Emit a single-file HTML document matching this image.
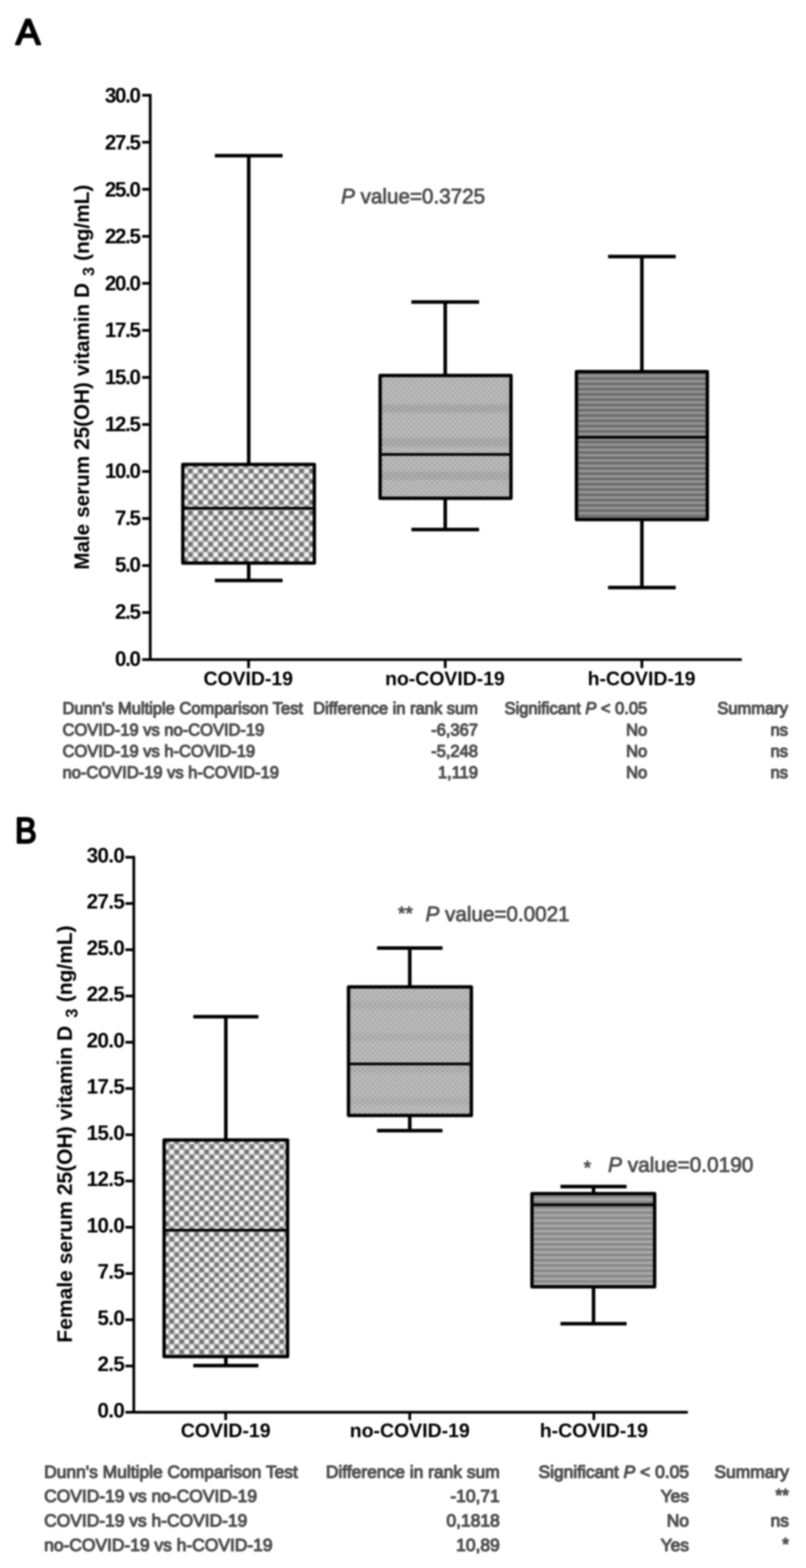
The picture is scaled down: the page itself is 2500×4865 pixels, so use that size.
<!DOCTYPE html>
<html lang="en"><head><meta charset="utf-8"><title>Serum 25(OH) vitamin D3 by COVID-19 group</title>
<style>html,body{margin:0;padding:0;background:#fff}body{width:2500px;height:4865px;overflow:hidden}svg{display:block;font-family:"Liberation Sans", sans-serif}</style>
</head><body>
<svg width="2500" height="4865" viewBox="0 0 2500 4865">
<defs>
<filter id="bl" x="0" y="0" width="2500" height="4865" filterUnits="userSpaceOnUse" color-interpolation-filters="sRGB"><feGaussianBlur stdDeviation="2.4"/></filter>
<pattern id="chkA" width="31.3" height="32.4" patternUnits="userSpaceOnUse" patternTransform="translate(582.97 1453.40)"><rect width="31.3" height="32.4" fill="#ffffff"/><rect x="0" y="0" width="15.65" height="16.2" fill="#686868"/><rect x="15.65" y="16.2" width="15.65" height="16.2" fill="#686868"/></pattern>
<pattern id="chkB" width="31.0" height="31.8" patternUnits="userSpaceOnUse" patternTransform="translate(524.85 3550.55)"><rect width="31.0" height="31.8" fill="#ffffff"/><rect x="0" y="0" width="15.5" height="15.9" fill="#686868"/><rect x="15.5" y="15.9" width="15.5" height="15.9" fill="#686868"/></pattern>
<pattern id="strA" width="16.4" height="16.4" patternUnits="userSpaceOnUse" patternTransform="translate(0 1170.40)"><rect width="16.4" height="16.4" fill="#a2a2a2"/><rect width="16.4" height="8.2" fill="#5e5e5e"/></pattern>
<pattern id="strB" width="16.4" height="16.4" patternUnits="userSpaceOnUse" patternTransform="translate(0 3758.40)"><rect width="16.4" height="16.4" fill="#b4b4b4"/><rect width="16.4" height="8.2" fill="#7c7c7c"/></pattern>
<pattern id="dotA" width="16" height="16" patternUnits="userSpaceOnUse"><rect width="16" height="16" fill="#c0c0c0"/><rect x="1" y="1.5" width="6" height="5" fill="#808080"/><rect x="9" y="9.5" width="6" height="5" fill="#808080"/><rect x="10.5" y="3" width="3" height="2" fill="#fff"/><rect x="2.5" y="11" width="3" height="2" fill="#fff"/></pattern>
<pattern id="dotB" width="16" height="16" patternUnits="userSpaceOnUse"><rect width="16" height="16" fill="#c1c1c1"/><rect x="1" y="1.5" width="6" height="5" fill="#828282"/><rect x="9" y="9.5" width="6" height="5" fill="#828282"/><rect x="10.5" y="3" width="3" height="2" fill="#fff"/><rect x="2.5" y="11" width="3" height="2" fill="#fff"/></pattern>
<filter id="pb" x="0" y="0" width="2500" height="4865" filterUnits="userSpaceOnUse" color-interpolation-filters="sRGB"><feGaussianBlur stdDeviation="2.4"/></filter>
</defs>
<rect width="2500" height="4865" fill="#fff"/>
<g filter="url(#bl)">
<g filter="url(#pb)">
<rect x="567" y="1441" width="408" height="306" fill="url(#chkA)"/>
<rect x="1179" y="1165" width="406" height="381" fill="url(#dotA)"/>
<rect x="1179" y="1255" width="406" height="26" fill="#000" fill-opacity="0.07"/>
<rect x="1179" y="1359" width="406" height="26" fill="#000" fill-opacity="0.07"/>
<rect x="1179" y="1463" width="406" height="26" fill="#000" fill-opacity="0.07"/>
<rect x="1788" y="1153" width="406" height="459" fill="url(#strA)"/>
</g>
<g stroke="#000" fill="none" stroke-linecap="butt" stroke-linejoin="round">
<path stroke-width="8.5" d="M466 291.2 V2046.5 H2301"/>
<path stroke-width="8.5" d="M441 2046.5H466M441 1900.6H466M441 1754.7H466M441 1608.7H466M441 1462.8H466M441 1316.9H466M441 1171.0H466M441 1025.0H466M441 879.1H466M441 733.2H466M441 587.2H466M441 441.3H466M441 295.4H466M771 2046.5V2073M1381 2046.5V2073M1991 2046.5V2073"/>
<rect stroke-width="10.5" x="567" y="1441" width="408" height="306"/>
<path stroke-width="8.5" d="M567 1577H975"/>
<path stroke-width="11" d="M771.5 1441V483M666.5 483H876.5M771.5 1747V1801M666.5 1801H876.5"/>
<rect stroke-width="10.5" x="1179" y="1165" width="406" height="381"/>
<path stroke-width="8.5" d="M1179 1410H1585"/>
<path stroke-width="11" d="M1381 1165V937M1276.0 937H1486.0M1381 1546V1643M1276.0 1643H1486.0"/>
<rect stroke-width="10.5" x="1788" y="1153" width="406" height="459"/>
<path stroke-width="8.5" d="M1788 1357H2194"/>
<path stroke-width="11" d="M1991 1153V796M1886.0 796H2096.0M1991 1612V1823M1886.0 1823H2096.0"/>
</g>
<g font-weight="700" font-size="64" text-anchor="end" letter-spacing="-4.3">
<text x="432.7" y="2065.5">0.0</text>
<text x="432.7" y="1919.9">2.5</text>
<text x="432.7" y="1774.3">5.0</text>
<text x="432.7" y="1628.7">7.5</text>
<text x="432.7" y="1483.1">10.0</text>
<text x="432.7" y="1337.5">12.5</text>
<text x="432.7" y="1192.0">15.0</text>
<text x="432.7" y="1046.4">17.5</text>
<text x="432.7" y="900.8">20.0</text>
<text x="432.7" y="755.2">22.5</text>
<text x="432.7" y="609.6">25.0</text>
<text x="432.7" y="464.0">27.5</text>
<text x="432.7" y="318.4">30.0</text>
</g>
<g font-weight="700" font-size="60.2" text-anchor="middle">
<text x="770" y="2126">COVID-19</text>
<text x="1380" y="2126">no-COVID-19</text>
<text x="1990" y="2126">h-COVID-19</text>
</g>
<g font-weight="700" font-size="64">
<text transform="translate(276 878) rotate(-90)" text-anchor="end" letter-spacing="0" word-spacing="1">Male serum 25(OH) vitamin D</text>
<text transform="translate(292 842.7) rotate(-90)" text-anchor="middle" font-size="50">3</text>
<text transform="translate(276 809.5) rotate(-90)" text-anchor="start" font-size="64.5">(ng/mL)</text>
</g>
<text transform="translate(49 137) scale(1.02 1)" font-weight="400" stroke="#000" stroke-width="6" stroke-linejoin="round" font-size="112">A</text>
<g fill="#505050" stroke="#505050" stroke-width="2.5" stroke-linejoin="round">
<text x="1058" y="631" font-size="64" xml:space="preserve"><tspan font-style="italic">P</tspan> value=0.3725</text>
</g>
<g font-size="51.2" fill="#505050" stroke="#505050" stroke-width="3.4" stroke-linejoin="round">
<text x="194" y="2215">Dunn's Multiple Comparison Test</text>
<text x="1482.5" y="2215" text-anchor="end">Difference in rank sum</text>
<text x="2007.5" y="2215" text-anchor="end" xml:space="preserve">Significant <tspan font-style="italic">P</tspan> &lt; 0.05</text>
<text x="2444" y="2215" text-anchor="end">Summary</text>
<text x="194" y="2282">COVID-19 vs no-COVID-19</text>
<text x="1482.5" y="2282" text-anchor="end">-6,367</text>
<text x="2007.5" y="2282" text-anchor="end">No</text>
<text x="2444" y="2282" text-anchor="end">ns</text>
<text x="194" y="2348">COVID-19 vs h-COVID-19</text>
<text x="1482.5" y="2348" text-anchor="end">-5,248</text>
<text x="2007.5" y="2348" text-anchor="end">No</text>
<text x="2444" y="2348" text-anchor="end">ns</text>
<text x="194" y="2414">no-COVID-19 vs h-COVID-19</text>
<text x="1482.5" y="2414" text-anchor="end">1,119</text>
<text x="2007.5" y="2414" text-anchor="end">No</text>
<text x="2444" y="2414" text-anchor="end">ns</text>
</g>
<g filter="url(#pb)">
<rect x="509" y="3537" width="383" height="672" fill="url(#chkB)"/>
<rect x="1081" y="3062" width="381" height="399" fill="url(#dotB)"/>
<rect x="1081" y="3107" width="381" height="26" fill="#000" fill-opacity="0.04"/>
<rect x="1081" y="3206" width="381" height="26" fill="#000" fill-opacity="0.04"/>
<rect x="1081" y="3305" width="381" height="26" fill="#000" fill-opacity="0.04"/>
<rect x="1081" y="3404" width="381" height="26" fill="#000" fill-opacity="0.04"/>
<rect x="1650" y="3703.5" width="380.5" height="289.0" fill="url(#strB)"/>
</g>
<g stroke="#000" fill="none" stroke-linecap="butt" stroke-linejoin="round">
<path stroke-width="8.5" d="M415 2655.4 V4381.7 H2133.5"/>
<path stroke-width="8.5" d="M389 4381.7H415M389 4238.2H415M389 4094.7H415M389 3951.2H415M389 3807.7H415M389 3664.2H415M389 3520.7H415M389 3377.2H415M389 3233.7H415M389 3090.2H415M389 2946.7H415M389 2803.2H415M389 2659.7H415M700 4381.7V4406M1271 4381.7V4406M1842 4381.7V4406"/>
<rect stroke-width="10.5" x="509" y="3537" width="383" height="672"/>
<path stroke-width="8.5" d="M509 3817H892"/>
<path stroke-width="11" d="M700.5 3537V3154.5M599.5 3154.5H801.5M700.5 4209V4237M599.5 4237H801.5"/>
<rect stroke-width="10.5" x="1081" y="3062" width="381" height="399"/>
<path stroke-width="8.5" d="M1081 3301H1462"/>
<path stroke-width="11" d="M1271 3062V2941.5M1169.5 2941.5H1372.5M1271 3461V3508M1169.5 3508H1372.5"/>
<rect stroke-width="10.5" x="1650" y="3703.5" width="380.5" height="289.0"/>
<path stroke-width="8.5" d="M1650 3738H2030.5"/>
<path stroke-width="11" d="M1841 3703.5V3681.5M1738.5 3681.5H1943.5M1841 3992.5V4107M1738.5 4107H1943.5"/>
</g>
<g font-weight="700" font-size="64" text-anchor="end" letter-spacing="-2.1">
<text x="384.9" y="4397.7">0.0</text>
<text x="384.9" y="4254.2">2.5</text>
<text x="384.9" y="4110.7">5.0</text>
<text x="384.9" y="3967.2">7.5</text>
<text x="384.9" y="3823.7">10.0</text>
<text x="384.9" y="3680.2">12.5</text>
<text x="384.9" y="3536.7">15.0</text>
<text x="384.9" y="3393.2">17.5</text>
<text x="384.9" y="3249.7">20.0</text>
<text x="384.9" y="3106.2">22.5</text>
<text x="384.9" y="2962.7">25.0</text>
<text x="384.9" y="2819.2">27.5</text>
<text x="384.9" y="2675.7">30.0</text>
</g>
<g font-weight="700" font-size="60.4" text-anchor="middle">
<text x="700" y="4459">COVID-19</text>
<text x="1271" y="4459">no-COVID-19</text>
<text x="1842" y="4459">h-COVID-19</text>
</g>
<g font-weight="700" font-size="65.3">
<text transform="translate(223 3182.5) rotate(-90)" text-anchor="end" letter-spacing="0" word-spacing="0">Female serum 25(OH) vitamin D</text>
<text transform="translate(240 3143.5) rotate(-90)" text-anchor="middle" font-size="51">3</text>
<text transform="translate(223 3109.5) rotate(-90)" text-anchor="start" font-size="65">(ng/mL)</text>
</g>
<text transform="translate(46.5 2615) scale(0.9 1)" font-weight="400" stroke="#000" stroke-width="6" stroke-linejoin="round" font-size="112">B</text>
<g fill="#505050" stroke="#505050" stroke-width="2.5" stroke-linejoin="round">
<text x="1257.5" y="2854" font-size="60" text-anchor="middle">**</text>
<text x="1320" y="2858" font-size="64" xml:space="preserve"><tspan font-style="italic">P</tspan> value=0.0021</text>
<text x="1822" y="3643" font-size="60" text-anchor="middle">*</text>
<text x="1886" y="3635.5" font-size="64.6" xml:space="preserve"><tspan font-style="italic">P</tspan> value=0.0190</text>
</g>
<g font-size="54" fill="#505050" stroke="#505050" stroke-width="3.4" stroke-linejoin="round">
<text x="137" y="4585">Dunn's Multiple Comparison Test</text>
<text x="1550" y="4585" text-anchor="end">Difference in rank sum</text>
<text x="2137" y="4585" text-anchor="end" xml:space="preserve">Significant <tspan font-style="italic">P</tspan> &lt; 0.05</text>
<text x="2447" y="4585" text-anchor="end">Summary</text>
<text x="137" y="4660">COVID-19 vs no-COVID-19</text>
<text x="1550" y="4660" text-anchor="end">-10,71</text>
<text x="2137" y="4660" text-anchor="end">Yes</text>
<text x="2447" y="4657" text-anchor="end" font-size="54">**</text>
<text x="137" y="4736">COVID-19 vs h-COVID-19</text>
<text x="1550" y="4736" text-anchor="end">0,1818</text>
<text x="2137" y="4736" text-anchor="end">No</text>
<text x="2447" y="4736" text-anchor="end">ns</text>
<text x="137" y="4811.5">no-COVID-19 vs h-COVID-19</text>
<text x="1550" y="4811.5" text-anchor="end">10,89</text>
<text x="2137" y="4811.5" text-anchor="end">Yes</text>
<text x="2447" y="4808.5" text-anchor="end" font-size="54">*</text>
</g>
</g>
</svg>
</body></html>
